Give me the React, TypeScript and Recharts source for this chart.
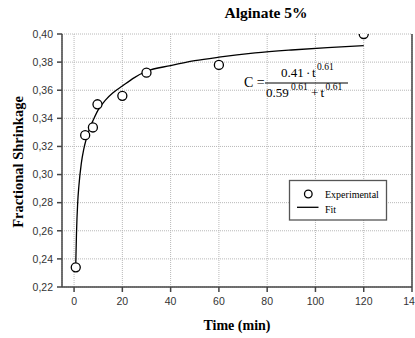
import React from "react";
import {
  ComposedChart,
  Line,
  Scatter,
  XAxis,
  YAxis,
  CartesianGrid,
  ReferenceLine,
} from "recharts";

// Experimental points (time in min, fractional shrinkage)
const expTime = [0.7, 4.6, 7.8, 9.7, 20, 30, 60, 120];
const expShrink = [0.234, 0.328, 0.3335, 0.350, 0.356, 0.3725, 0.378, 0.400];

// Fit curve
const fitTime = [0.7, 1, 1.5, 2, 3, 4, 5, 6.5, 8, 10, 13, 16, 20, 25, 30, 40, 50, 60, 75, 90, 105, 120];
const fitShrink = [0.236, 0.258, 0.28, 0.292, 0.308, 0.318, 0.325, 0.333, 0.339, 0.346, 0.353, 0.358, 0.363, 0.369, 0.3735, 0.3775, 0.381, 0.3835, 0.3865, 0.3886, 0.3903, 0.3917];

const xTicks = [0, 20, 40, 60, 80, 100, 120, 140];
const yTicks = [0.22, 0.24, 0.26, 0.28, 0.3, 0.32, 0.34, 0.36, 0.38, 0.4];

const title = "Alginate 5%";
const xLabel = "Time (min)";
const yLabel = "Fractional Shrinkage";
const legendNames = ["Experimental", "Fit"];

const expData = expTime.map((t, i) => ({ t, c: expShrink[i] }));
const fitData = fitTime.map((t, i) => ({ t, c: fitShrink[i] }));

const W = 415;
const H = 338;
const serif = "'Liberation Serif', 'Times New Roman', serif";
const sans = "'Liberation Sans', Arial, sans-serif";

export default function App() {
  return (
    <div style={{ position: "absolute", left: 0, top: 0, width: W, height: H, background: "#fff", overflow: "hidden" }}>
      <ComposedChart
        width={W}
        height={H}
        margin={{ top: 34, right: 3, bottom: 0, left: 0 }}
      >
        <CartesianGrid stroke="#b8b8b8" strokeDasharray="1 1" />
        <XAxis
          type="number"
          dataKey="t"
          domain={[-5, 140]}
          ticks={xTicks}
          allowDataOverflow
          interval={0}
          height={51}
          tickSize={5}
          tickMargin={6}
          stroke="#444"
          strokeWidth={1.5}
          tick={{ fontSize: 10.5, fill: "#333", fontFamily: sans }}
        />
        <YAxis
          type="number"
          domain={[0.22, 0.4]}
          ticks={yTicks}
          allowDataOverflow
          interval={0}
          width={62}
          tickSize={5}
          tickMargin={4}
          stroke="#444"
          strokeWidth={1.5}
          tickFormatter={(v: number) => v.toFixed(2).replace(".", ",")}
          tick={{ fontSize: 10.5, fill: "#333", fontFamily: sans }}
        />
        <ReferenceLine x={140} stroke="#444" strokeWidth={1.5} />
        <Line
          data={fitData}
          dataKey="c"
          type="monotone"
          stroke="#000"
          strokeWidth={1.3}
          dot={false}
          isAnimationActive={false}
        />
        <Scatter
          data={expData}
          dataKey="c"
          fill="#fff"
          stroke="#000"
          strokeWidth={1.3}
          isAnimationActive={false}
        />
      </ComposedChart>
      <svg
        width={W}
        height={H}
        style={{ position: "absolute", left: 0, top: 0, pointerEvents: "none" }}
      >
        <text x={266} y={18} textAnchor="middle" fontFamily={serif} fontWeight="bold" fontSize={15.5}>
          {title}
        </text>
        <text x={237} y={330} textAnchor="middle" fontFamily={serif} fontWeight="bold" fontSize={14}>
          {xLabel}
        </text>
        <text
          x={0}
          y={0}
          transform="translate(23,162) rotate(-90)"
          textAnchor="middle"
          fontFamily={serif}
          fontWeight="bold"
          fontSize={14.5}
        >
          {yLabel}
        </text>
        {/* equation */}
        <g fontFamily={serif} fill="#000">
          <text x={244} y={87} fontSize={14}>C =</text>
          <line x1={265} y1={83} x2={348} y2={83} stroke="#000" strokeWidth={1} />
          <text x={281} y={77} fontSize={13}>0.41</text>
          <text x={306} y={77} fontSize={13}>·</text>
          <text x={312} y={77} fontSize={13}>t</text>
          <text x={317} y={70} fontSize={9.5}>0.61</text>
          <text x={266} y={96.5} fontSize={13}>0.59</text>
          <text x={291} y={90} fontSize={9.5}>0.61</text>
          <text x={311} y={96.5} fontSize={13}>+</text>
          <text x={320.5} y={96.5} fontSize={13}>t</text>
          <text x={325.5} y={90} fontSize={9.5}>0.61</text>
        </g>
        {/* legend */}
        <rect x={289.5} y={180.5} width={97} height={39.5} fill="#fff" stroke="#555" strokeWidth={1.3} />
        <circle cx={308.3} cy={194} r={3.8} fill="#fff" stroke="#000" strokeWidth={1.3} />
        <text x={325} y={198} fontFamily={serif} fontSize={10}>{legendNames[0]}</text>
        <line x1={297} y1={207.3} x2={318.5} y2={207.3} stroke="#000" strokeWidth={1.3} />
        <text x={325} y={213} fontFamily={serif} fontSize={10}>{legendNames[1]}</text>
      </svg>
    </div>
  );
}
